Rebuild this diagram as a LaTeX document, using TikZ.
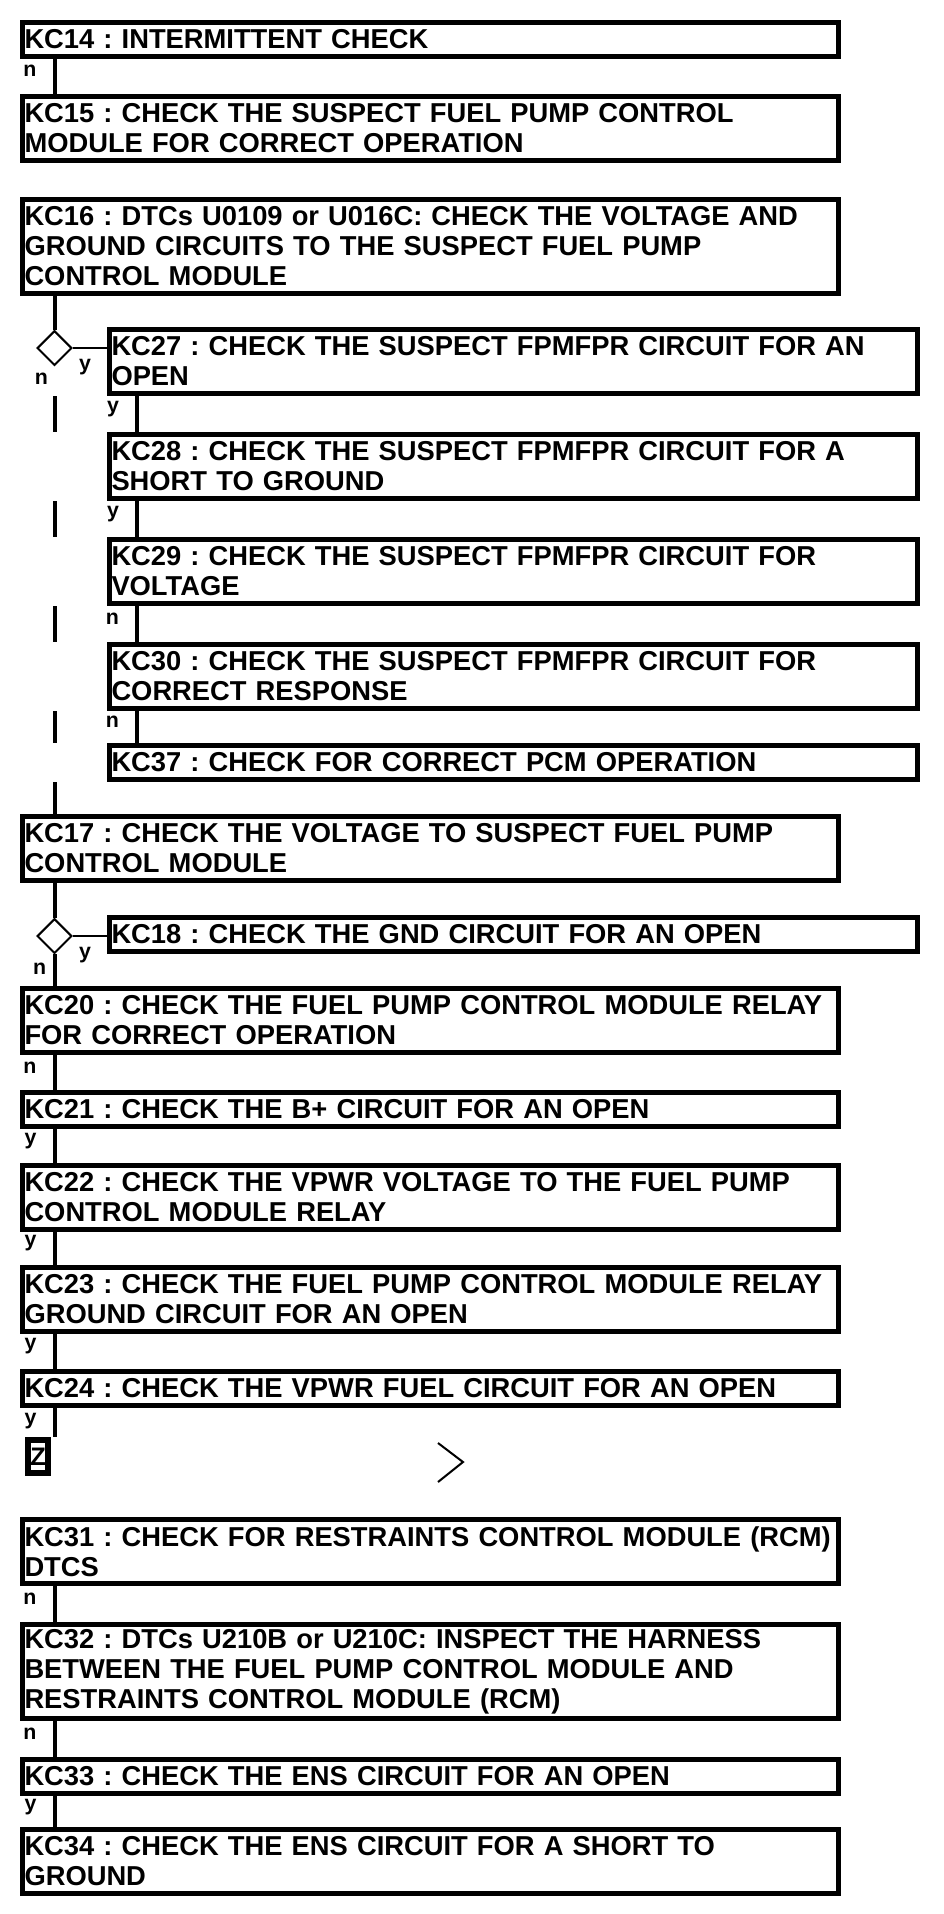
\documentclass[tikz,border=0pt]{standalone}
\usepackage{fontspec}
\setmainfont{Liberation Sans}
\usetikzlibrary{shapes.geometric,positioning}
\newcommand{\kcfont}{\bfseries\fontsize{20.5}{22.5}\selectfont\frenchspacing\hyphenpenalty=10000 }
\tikzset{kc/.style={draw,line width=3.75pt,anchor=north west,align=left,inner xsep=1.5pt,inner ysep=3pt,text width=609pt,minimum height=22.5pt*#1+3pt,font=\kcfont},kcr/.style={kc=#1,text width=603pt}}
\tikzset{link/.style={line width=3pt},tap/.style={line width=1.5pt},decide/.style={draw,diamond,line width=1.5pt,minimum size=26pt,inner sep=0pt},lab/.style={font=\bfseries\fontsize{16}{16}\selectfont,inner sep=1pt},ans/.style={lab,pos=.35,left=11pt},zbox/.style={draw,line width=4.5pt,minimum width=15pt,minimum height=24.75pt,inner sep=0pt,font=\bfseries\fontsize{19}{19}\selectfont}}

\begin{document}
\begin{tikzpicture}[x=.75pt,y=-.75pt]
\useasboundingbox (0,0) rectangle (944,1914);
\coordinate (t) at (54.5,0);\coordinate (r) at (137,0);
\node[kc=1] (k14) at (20,20) {KC14 : INTERMITTENT CHECK};
\node[kc=2] (k15) at (20,94) {KC15 : CHECK THE SUSPECT FUEL PUMP CONTROL\\MODULE FOR CORRECT OPERATION};
\node[kc=3] (k16) at (20,197) {KC16 : DTCs U0109 or U016C: CHECK THE VOLTAGE AND\\GROUND CIRCUITS TO THE SUSPECT FUEL PUMP\\CONTROL MODULE};
\node[decide] (d1) at (54.5,348) {};
% Branche de droite : KC27 a KC37, la branche n file vers KC17.
\node[kcr=2] (k27) at (107,327) {KC27 : CHECK THE SUSPECT FPMFPR CIRCUIT FOR AN\\OPEN};
\node[kcr=2] (k28) at (107,432) {KC28 : CHECK THE SUSPECT FPMFPR CIRCUIT FOR A\\SHORT TO GROUND};
\node[kcr=2] (k29) at (107,537) {KC29 : CHECK THE SUSPECT FPMFPR CIRCUIT FOR\\VOLTAGE};
\node[kcr=2] (k30) at (107,642) {KC30 : CHECK THE SUSPECT FPMFPR CIRCUIT FOR\\CORRECT RESPONSE};
\node[kcr=1] (k37) at (107,743) {KC37 : CHECK FOR CORRECT PCM OPERATION};
\node[kc=2] (k17) at (20,814) {KC17 : CHECK THE VOLTAGE TO SUSPECT FUEL PUMP\\CONTROL MODULE};
\node[decide] (d2) at (54.5,936) {};
\node[kcr=1] (k18) at (107,915) {KC18 : CHECK THE GND CIRCUIT FOR AN OPEN};
\node[kc=2] (k20) at (20,986) {KC20 : CHECK THE FUEL PUMP CONTROL MODULE RELAY\\FOR CORRECT OPERATION};
\node[kc=1] (k21) at (20,1090) {KC21 : CHECK THE B+ CIRCUIT FOR AN OPEN};
\node[kc=2] (k22) at (20,1163) {KC22 : CHECK THE VPWR VOLTAGE TO THE FUEL PUMP\\CONTROL MODULE RELAY};
\node[kc=2] (k23) at (20,1265) {KC23 : CHECK THE FUEL PUMP CONTROL MODULE RELAY\\GROUND CIRCUIT FOR AN OPEN};
\node[kc=1] (k24) at (20,1369) {KC24 : CHECK THE VPWR FUEL CIRCUIT FOR AN OPEN};
\node[zbox] (z) at (38,1456.5) {Z};
\node[kc=2] (k31) at (20,1517) {KC31 : CHECK FOR RESTRAINTS CONTROL MODULE (RCM)\\DTCS};
\node[kc=3] (k32) at (20,1622) {KC32 : DTCs U210B or U210C: INSPECT THE HARNESS\\BETWEEN THE FUEL PUMP CONTROL MODULE AND\\RESTRAINTS CONTROL MODULE (RCM)};
\node[kc=1] (k33) at (20,1757) {KC33 : CHECK THE ENS CIRCUIT FOR AN OPEN};
\node[kc=2] (k34) at (20,1827) {KC34 : CHECK THE ENS CIRCUIT FOR A SHORT TO\\GROUND};
\draw[link] (k14.south -| t) -- node[ans]{n} (k15.north -| t);
\draw[link] (k16.south -| t) -- (d1.north);
\draw[tap] (d1.east) node[lab,below right=6.4pt and 3pt]{y} -- (d1.east -| k27.west);
\node[lab,below left=4pt and 3.75pt] at (d1.south) {n};
\foreach \a/\b/\s in {k27/k28/y,k28/k29/y,k29/k30/n,k30/k37/n} \draw[link] (\a.south -| r) -- node[ans]{\s} (\b.north -| r);
\foreach \a/\b in {k27/k28,k28/k29,k29/k30,k30/k37} \draw[link] (t |- \a.south) -- (t |- \b.north);
\draw[link] (t |- k37.south) -- (k17.north -| t);
\draw[link] (k17.south -| t) -- (d2.north);
\draw[tap] (d2.east) node[lab,below right=6.4pt and 3pt]{y} -- (d2.east -| k18.west);
\draw[link] (d2.south) node[lab,below left=4pt and 3.75pt]{n} -- (k20.north -| t);
\foreach \a/\b/\s in {k20/k21/n,k21/k22/y,k22/k23/y,k23/k24/y,k31/k32/n,k32/k33/n,k33/k34/y} \draw[link] (\a.south -| t) -- node[ans]{\s} (\b.north -| t);
\draw[link] (k24.south -| t) -- node[ans,pos=.45]{y} (t |- z.north);
\draw[line width=1.5pt] (438,1443) -- (463,1462) -- (438,1482);
\end{tikzpicture}
\end{document}
